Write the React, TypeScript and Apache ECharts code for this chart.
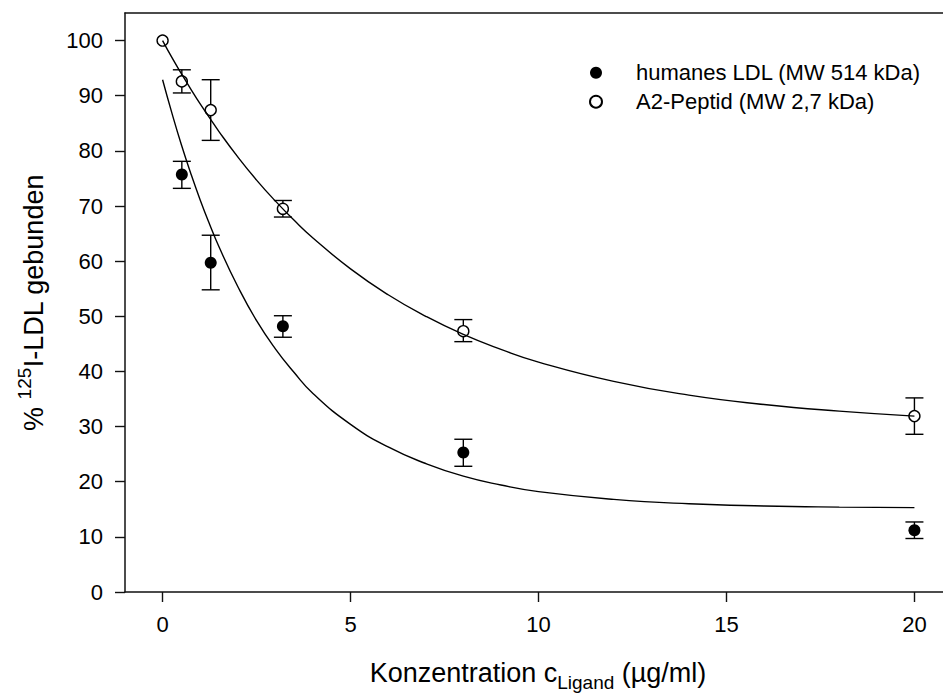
import React, { useEffect, useRef } from "react";
import * as echarts from "echarts";

const FONT = "'Liberation Sans', Arial, Helvetica, sans-serif";

// Measured binding (mean) and error-bar ranges for both competitors
const ldlName = "humanes LDL (MW 514 kDa)";
const peptideName = "A2-Peptid (MW 2,7 kDa)";

const ldlConc = [0.512, 1.28, 3.2, 8, 20];
const ldlMean = [75.7, 59.7, 48.2, 25.3, 11.2];
const ldlLow = [73.2, 54.8, 46.2, 22.8, 9.7];
const ldlHigh = [78.1, 64.7, 50.1, 27.7, 12.7];

const pepConc = [0, 0.512, 1.28, 3.2, 8, 20];
const pepMean = [100, 92.6, 87.4, 69.5, 47.3, 31.9];
const pepLow = [100, 90.5, 81.9, 68.0, 45.4, 28.6];
const pepHigh = [100, 94.7, 92.9, 71.0, 49.4, 35.2];

// Fitted decay curves
const fitConc = [0, 0.25, 0.5, 0.75, 1, 1.25, 1.5, 2, 2.5, 3, 3.5, 4, 5, 6, 7, 8, 9, 10, 12, 14, 16, 18, 20];
const ldlFit = [92.9, 86.8, 81.1, 75.9, 71.1, 66.7, 62.6, 55.4, 49.2, 44.1, 39.8, 36.0, 30.4, 26.3, 23.3, 21.0, 19.4, 18.2, 16.8, 16.0, 15.6, 15.4, 15.3];
const pepFit = [100, 96.9, 94.0, 91.2, 88.5, 86.0, 83.5, 78.9, 74.7, 70.9, 67.4, 64.2, 58.6, 53.9, 50.0, 46.7, 44.0, 41.7, 38.2, 35.7, 34.0, 32.8, 31.9];

const xTicks = [0, 5, 10, 15, 20];
const yTicks = [0, 10, 20, 30, 40, 50, 60, 70, 80, 90, 100];

const errorRows = (xs: number[], lo: number[], hi: number[]) =>
  xs.map((x, i) => [x, lo[i], hi[i]]).filter((r) => r[2] - r[1] > 0.01);

const pairs = (xs: number[], ys: number[]) => xs.map((x, i) => [x, ys[i]]);

export default function App() {
  const ref = useRef<HTMLDivElement>(null);

  useEffect(() => {
    if (!ref.current) return;
    const chart = echarts.init(ref.current, undefined, { renderer: "svg" });

    const axisLine = { show: true, onZero: false, lineStyle: { color: "#111", width: 1.5 } };

    const errorSeries = (name: string, rows: number[][]) => ({
      name,
      type: "custom",
      z: 1,
      encode: { x: 0, y: [1, 2] },
      data: rows,
      renderItem: (_p: any, api: any) => {
        const x = api.value(0);
        const top = api.coord([x, api.value(2)]);
        const bot = api.coord([x, api.value(1)]);
        const w = 9;
        const st = { stroke: "#000", lineWidth: 1.4 };
        return {
          type: "group",
          children: [
            { type: "line", shape: { x1: top[0], y1: top[1], x2: bot[0], y2: bot[1] }, style: st },
            { type: "line", shape: { x1: top[0] - w, y1: top[1], x2: top[0] + w, y2: top[1] }, style: st },
            { type: "line", shape: { x1: bot[0] - w, y1: bot[1], x2: bot[0] + w, y2: bot[1] }, style: st },
          ],
        };
      },
    });

    const fitLine = (name: string, ys: number[]) => ({
      name,
      type: "line",
      z: 3,
      smooth: 0.5,
      showSymbol: false,
      lineStyle: { color: "#000", width: 1.4 },
      data: pairs(fitConc, ys),
    });

    chart.setOption({
      animation: false,
      grid: { left: 125, right: 0, top: 13, bottom: 101, containLabel: false },
      xAxis: [
        {
          type: "value",
          min: -1,
          max: 20.76,
          axisLine,
          splitLine: { show: false },
          axisTick: { show: true, customValues: xTicks, length: 10, inside: false, lineStyle: { color: "#111", width: 1.4 } },
          axisLabel: { customValues: xTicks, fontSize: 22, color: "#000", fontFamily: FONT, margin: 21 },
        },
        {
          type: "value",
          position: "top",
          min: -1,
          max: 20.76,
          axisLine,
          splitLine: { show: false },
          axisTick: { show: false },
          axisLabel: { show: false },
        },
      ],
      yAxis: {
        type: "value",
        min: 0,
        max: 105,
        axisLine,
        splitLine: { show: false },
        axisTick: { show: true, customValues: yTicks, length: 10, lineStyle: { color: "#111", width: 1.4 } },
        axisLabel: { customValues: yTicks, fontSize: 22, color: "#000", fontFamily: FONT, margin: 22 },
      },
      legend: {
        data: [ldlName, peptideName],
        orient: "vertical",
        left: 589,
        top: 61.7,
        padding: 0,
        itemGap: 7,
        itemWidth: 70,
        itemHeight: 12,
        textStyle: { fontSize: 22, color: "#000", fontFamily: FONT, lineHeight: 22 },
      },
      graphic: [
        {
          type: "text",
          x: 538,
          y: 652.5,
          z: 10,
          style: {
            text: "Konzentration c{sub|Ligand} (µg/ml)",
            align: "center",
            verticalAlign: "top",
            fontSize: 27,
            lineHeight: 40,
            fontFamily: FONT,
            fill: "#000",
            rich: {
              sub: { fontSize: 19, lineHeight: 19, padding: [20, 0, 0, 0], fontFamily: FONT, fill: "#000" },
            },
          },
        },
        {
          type: "text",
          x: 33.5,
          y: 302.5,
          rotation: Math.PI / 2,
          z: 10,
          style: {
            text: "% {sup|125}I-LDL gebunden",
            align: "center",
            verticalAlign: "middle",
            fontSize: 27,
            lineHeight: 40,
            fontFamily: FONT,
            fill: "#000",
            rich: {
              sup: { fontSize: 19, lineHeight: 19, padding: [0, 0, 19, 0], fontFamily: FONT, fill: "#000" },
            },
          },
        },
      ],
      series: [
        errorSeries("ldl-error", errorRows(ldlConc, ldlLow, ldlHigh)),
        errorSeries("pep-error", errorRows(pepConc, pepLow, pepHigh)),
        {
          name: ldlName,
          type: "scatter",
          z: 2,
          symbol: "circle",
          symbolSize: 12,
          itemStyle: { color: "#000", opacity: 1 },
          data: pairs(ldlConc, ldlMean),
        },
        {
          name: peptideName,
          type: "scatter",
          z: 2,
          symbol: "circle",
          symbolSize: 11,
          itemStyle: { color: "#fff", borderColor: "#000", borderWidth: 1.4, opacity: 1 },
          data: pairs(pepConc, pepMean),
        },
        fitLine("ldl-fit", ldlFit),
        fitLine("pep-fit", pepFit),
      ],
    });

    return () => chart.dispose();
  }, []);

  return (
    <div
      ref={ref}
      style={{ position: "absolute", left: 0, top: 0, width: 943, height: 693, background: "#fff" }}
    />
  );
}
